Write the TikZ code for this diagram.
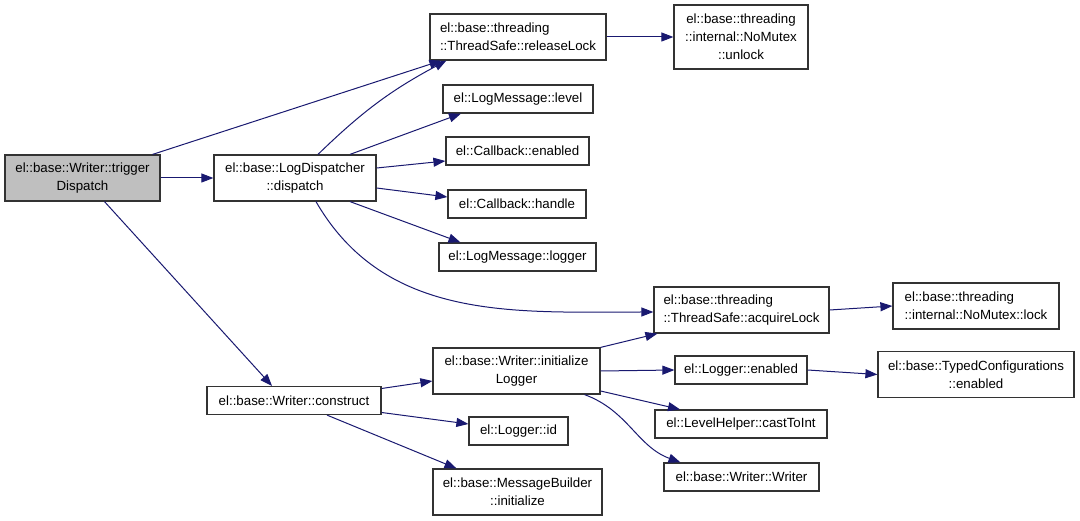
\documentclass[tikz,border=0pt]{standalone}
\usepackage{fontspec}
\setmainfont{Liberation Sans}
\usetikzlibrary{arrows.meta}
\definecolor{edgeblue}{RGB}{25,25,112}
\definecolor{rootgray}{RGB}{191,191,191}
\begin{document}
\begin{tikzpicture}[x=1pt,y=1pt]
        \useasboundingbox (0,0) rectangle (1080,-521);

        \begin{scope}[every node/.style={draw=black!80,line width=1.2pt,rectangle,inner sep=0pt,
            minimum height=28pt,align=center,font=\fontsize{13.3}{18}\selectfont}]
          \node[fill=rootgray,minimum width=155pt,minimum height=46pt] (1) at (82.5,-178) {el::base::Writer::trigger\\Dispatch};
          \node[minimum width=162pt,minimum height=46pt] (2) at (295,-178) {el::base::LogDispatcher\\::dispatch};
          \node[minimum width=176pt,minimum height=46pt,align=left] (3) at (518,-37) {el::base::threading\\::ThreadSafe::releaseLock};
          \node[minimum width=134pt,minimum height=64pt] (4) at (741,-37) {el::base::threading\\::internal::NoMutex\\::unlock};
          \node[minimum width=150pt] (5) at (518,-99) {el::LogMessage::level};
          \node[minimum width=143pt] (6) at (517.5,-151) {el::Callback::enabled};
          \node[minimum width=138pt] (7) at (517,-204) {el::Callback::handle};
          \node[minimum width=157pt] (8) at (517.5,-257) {el::LogMessage::logger};
          \node[minimum width=175pt,minimum height=46pt,align=left] (9) at (741.5,-310) {el::base::threading\\::ThreadSafe::acquireLock};
          \node[minimum width=166pt,minimum height=46pt,align=left] (10) at (976,-306) {el::base::threading\\::internal::NoMutex::lock};
          \node[minimum width=174pt] (11) at (294,-400.5) {el::base::Writer::construct};
          \node[minimum width=167pt,minimum height=46pt] (12) at (516.5,-371) {el::base::Writer::initialize\\Logger};
          \node[minimum width=132pt] (13) at (741,-370) {el::Logger::enabled};
          \node[minimum width=196pt,minimum height=46pt] (14) at (976,-374.5) {el::base::TypedConfigurations\\::enabled};
          \node[minimum width=172pt] (15) at (741,-424) {el::LevelHelper::castToInt};
          \node[minimum width=99pt] (16) at (518.5,-431) {el::Logger::id};
          \node[minimum width=155pt] (17) at (741.5,-477) {el::base::Writer::Writer};
          \node[minimum width=169pt,minimum height=46pt] (18) at (517.5,-492) {el::base::MessageBuilder\\::initialize};
        \end{scope}

        \begin{scope}[every edge/.style={draw=edgeblue,line width=1pt,-{Triangle[length=12pt,width=9pt]}}]
          \path ([xshift=-8pt]1.north east) edge ([xshift=12pt]3.south west);
          \path (1.east) edge (2.west);
          \path ([xshift=22pt]1.south) edge ([xshift=-22pt]11.north);
          \path ([xshift=23pt]2.north) edge[bend left=8] ([xshift=17pt]3.south west);
          \path ([xshift=55pt]2.north) edge ([xshift=-57pt]5.south);
          \path ([yshift=10pt]2.east) edge ([yshift=-10pt]6.west);
          \path ([yshift=-10pt]2.east) edge ([yshift=7pt]7.west);
          \path ([xshift=55pt]2.south) edge ([xshift=-57pt]8.north);
          \path ([xshift=21pt]2.south) edge[out=-60,in=180] ([yshift=-2pt]9.west);
          \path (3.east) edge (4.west);
          \path (9.east) edge (10.west);
          \path ([yshift=12pt]11.east) edge ([yshift=-10pt]12.west);
          \path ([yshift=-12pt]11.east) edge ([yshift=7pt]16.west);
          \path ([xshift=33pt]11.south) edge ([xshift=-61pt]18.north);
          \path (12.north east) edge ([xshift=4pt]9.south west);
          \path (12.east) edge (13.west);
          \path ([yshift=-20pt]12.east) edge ([xshift=-61pt]15.north);
          \path ([xshift=68pt]12.south) edge[out=-20,in=160] ([xshift=-61pt]17.north);
          \path (13.east) edge (14.west);
        \end{scope}

      \end{tikzpicture}
\end{document}
